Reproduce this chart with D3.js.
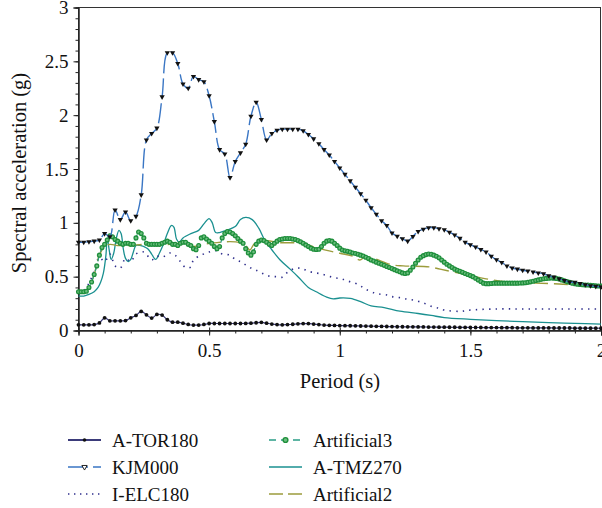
<!DOCTYPE html>
<html><head><meta charset="utf-8">
<script src="https://cdn.jsdelivr.net/npm/d3@7"></script>
<style>
html,body{margin:0;padding:0;background:#fff;}
svg{display:block;}
</style></head>
<body><svg id="chart" width="602" height="508"></svg>
<script>
// ---------- DATA ----------
const xTicks = [0, 0.5, 1, 1.5, 2];
const yTicks = [0, 0.5, 1, 1.5, 2, 2.5, 3];
const seriesNames = ["A-TOR180", "KJM000", "I-ELC180", "Artificial3", "A-TMZ270", "Artificial2"];

// periods sampled every 0.02 s (A-TOR180, KJM000)
const periods02 = d3.range(101).map(i => +(i * 0.02).toFixed(2));
// periods sampled every 0.01 s (Artificial3)
const periods01 = d3.range(201).map(i => +(i * 0.01).toFixed(2));

const torValues = [
0.053,0.053,0.053,0.055,0.07,0.118,0.09,0.09,0.09,0.092,
0.118,0.14,0.177,0.146,0.115,0.149,0.143,0.10,0.077,0.077,
0.068,0.056,0.05,0.05,0.056,0.065,0.065,0.065,0.065,0.065,
0.065,0.065,0.066,0.068,0.072,0.076,0.068,0.06,0.055,0.053,
0.055,0.058,0.062,0.064,0.064,0.06,0.055,0.05,0.048,0.047,
0.046,0.045,0.044,0.043,0.042,0.041,0.040,0.039,0.038,0.037,
0.036,0.035,0.035,0.034,0.034,0.033,0.033,0.032,0.032,0.031,
0.031,0.030,0.030,0.029,0.029,0.028,0.028,0.028,0.027,0.027,
0.027,0.026,0.026,0.026,0.025,0.025,0.025,0.024,0.024,0.024,
0.024,0.023,0.023,0.023,0.023,0.022,0.022,0.022,0.022,0.022,
0.021];

const kjmValues = [
0.82,0.82,0.825,0.83,0.84,0.90,0.87,1.12,1.03,1.10,
1.02,1.06,1.26,1.77,1.83,1.88,2.17,2.58,2.58,2.48,
2.29,2.25,2.36,2.33,2.31,2.18,1.94,1.68,1.64,1.42,
1.57,1.65,1.73,1.99,2.12,1.96,1.77,1.83,1.86,1.87,
1.87,1.87,1.87,1.855,1.82,1.78,1.735,1.68,1.63,1.57,
1.51,1.45,1.39,1.33,1.27,1.21,1.14,1.08,1.02,0.975,
0.905,0.875,0.853,0.83,0.874,0.92,0.94,0.955,0.955,0.945,
0.935,0.912,0.887,0.856,0.82,0.797,0.775,0.753,0.73,0.69,
0.657,0.632,0.60,0.58,0.57,0.56,0.552,0.543,0.535,0.527,
0.508,0.496,0.48,0.465,0.45,0.447,0.437,0.425,0.416,0.41,
0.405];

const elcPeriods = [0,0.02,0.04,0.06,0.08,0.1,0.12,0.14,0.16,0.18,0.2,0.22,0.25,0.28,0.30,0.32,0.35,0.37,0.39,0.41,0.43,0.44,0.47,0.50,0.53,0.55,0.58,0.60,0.62,0.64,0.66,0.68,0.705,0.73,0.755,0.78,0.80,0.83,0.855,0.88,0.905,0.93,0.956,0.98,1.007,1.03,1.06,1.08,1.10,1.13,1.15,1.18,1.2,1.23,1.255,1.28,1.305,1.33,1.356,1.38,1.40,1.46,1.5,1.6,1.7,1.8,1.9,2.0];
const elcValues = [0.34,0.37,0.44,0.55,0.68,0.64,0.71,0.60,0.58,0.67,0.64,0.71,0.73,0.655,0.69,0.68,0.72,0.70,0.64,0.585,0.59,0.655,0.70,0.73,0.74,0.71,0.70,0.66,0.64,0.61,0.58,0.56,0.53,0.505,0.50,0.495,0.54,0.578,0.575,0.55,0.537,0.525,0.506,0.49,0.48,0.46,0.438,0.413,0.382,0.351,0.339,0.33,0.315,0.305,0.293,0.283,0.268,0.246,0.22,0.206,0.19,0.178,0.19,0.2,0.2,0.2,0.2,0.2];

const art3Values = [
0.36,0.36,0.36,0.365,0.40,0.45,0.52,0.60,0.70,0.77,
0.80,0.84,0.88,0.87,0.845,0.83,0.81,0.80,0.81,0.81,
0.80,0.80,0.86,0.915,0.90,0.86,0.81,0.80,0.80,0.80,
0.80,0.80,0.81,0.82,0.83,0.82,0.80,0.80,0.79,0.81,
0.82,0.82,0.80,0.79,0.76,0.75,0.79,0.86,0.87,0.85,
0.83,0.81,0.78,0.76,0.78,0.86,0.90,0.92,0.915,0.90,
0.88,0.855,0.83,0.81,0.76,0.72,0.70,0.73,0.80,0.83,
0.84,0.835,0.82,0.80,0.79,0.81,0.83,0.845,0.85,0.855,
0.855,0.855,0.85,0.845,0.835,0.825,0.81,0.795,0.78,0.765,
0.755,0.752,0.755,0.78,0.81,0.83,0.835,0.83,0.81,0.79,
0.765,0.748,0.74,0.735,0.728,0.72,0.715,0.708,0.70,0.692,
0.68,0.668,0.655,0.645,0.635,0.625,0.615,0.605,0.595,0.585,
0.575,0.565,0.555,0.545,0.535,0.53,0.535,0.56,0.59,0.625,
0.655,0.68,0.695,0.705,0.71,0.708,0.70,0.69,0.675,0.655,
0.635,0.615,0.60,0.585,0.57,0.56,0.55,0.54,0.53,0.52,
0.51,0.50,0.485,0.47,0.455,0.44,0.435,0.435,0.437,0.44,
0.44,0.44,0.44,0.44,0.44,0.44,0.44,0.44,0.44,0.441,
0.442,0.444,0.447,0.452,0.458,0.464,0.47,0.475,0.48,0.484,
0.486,0.487,0.486,0.483,0.478,0.47,0.462,0.454,0.447,0.44,
0.435,0.43,0.427,0.425,0.423,0.422,0.42,0.418,0.416,0.414,
0.413];

const tmzPeriods = [0,0.02,0.04,0.06,0.075,0.085,0.095,0.105,0.11,0.118,0.125,0.135,0.145,0.155,0.163,0.172,0.18,0.19,0.2,0.21,0.22,0.235,0.25,0.265,0.28,0.295,0.31,0.325,0.34,0.355,0.365,0.375,0.385,0.40,0.43,0.46,0.48,0.50,0.512,0.525,0.54,0.565,0.60,0.62,0.64,0.665,0.69,0.715,0.74,0.77,0.81,0.84,0.88,0.91,0.95,0.975,1.0,1.04,1.08,1.12,1.17,1.23,1.3,1.35,1.4,1.5,1.6,1.7,1.8,1.9,2.0];
const tmzValues = [0.32,0.32,0.335,0.36,0.40,0.45,0.53,0.70,0.86,0.74,0.66,0.72,0.86,0.93,0.90,0.75,0.67,0.64,0.66,0.73,0.79,0.79,0.78,0.76,0.71,0.66,0.72,0.80,0.90,0.975,0.96,0.85,0.82,0.86,0.90,0.93,0.99,1.04,1.0,0.91,0.91,0.93,0.965,1.03,1.05,1.03,0.95,0.83,0.75,0.66,0.57,0.50,0.40,0.36,0.31,0.293,0.302,0.298,0.268,0.228,0.213,0.18,0.158,0.14,0.12,0.104,0.092,0.082,0.073,0.066,0.06];

const art2Periods = [0,0.02,0.04,0.06,0.08,0.1,0.12,0.15,0.2,0.25,0.3,0.35,0.39,0.44,0.48,0.53,0.58,0.615,0.643,0.656,0.675,0.72,0.77,0.85,0.924,1.0,1.05,1.077,1.1,1.2,1.243,1.345,1.384,1.473,1.56,1.64,1.75,1.84,1.92,2.0];
const art2Values = [0.35,0.36,0.40,0.52,0.70,0.78,0.80,0.79,0.79,0.80,0.79,0.80,0.81,0.78,0.80,0.816,0.825,0.816,0.78,0.748,0.81,0.834,0.816,0.81,0.76,0.717,0.69,0.655,0.686,0.61,0.60,0.59,0.57,0.525,0.48,0.452,0.44,0.432,0.42,0.413];

// ---------- CHART ----------
const FONT = "'Liberation Serif'";
const svg = d3.select("#chart");
const x = d3.scaleLinear().domain([0, 2]).range([78.5, 601]);
const y = d3.scaleLinear().domain([0, 3]).range([330.5, 7.5]);

const zip = (ps, vs) => ps.map((p, i) => [p, vs[i]]);
const line = d3.line().x(d => x(d[0])).y(d => y(d[1])).curve(d3.curveCatmullRom.alpha(0.5));

const colors = {
  tor: "#3b3b7a", kjm: "#3a76c4", elc: "#2e2e8c",
  art3: "#1f8f3c", art3fill: "#6cbf7e", art3line: "#2a9d86", tmz: "#1a9090", art2: "#9c9c3c"
};

// frame
svg.append("rect").attr("x", 78.5).attr("y", 7.5).attr("width", 522).attr("height", 323)
  .attr("fill", "none").attr("stroke", "#333").attr("stroke-width", 1);

// axes
const fontTick = 19;
const yMinor = svg.append("g").attr("transform", "translate(78.5,0)")
  .call(d3.axisLeft(y).tickValues(d3.range(0, 31).map(i => i / 10)).tickSize(3).tickFormat(""));
const yAxis = svg.append("g").attr("transform", "translate(78.5,0)")
  .call(d3.axisLeft(y).tickValues(yTicks).tickSize(5).tickPadding(5).tickFormat(d => String(d)));
const xMinor = svg.append("g").attr("transform", "translate(0,330.5)")
  .call(d3.axisBottom(x).tickValues(d3.range(0, 21).map(i => i / 10)).tickSize(3).tickFormat(""));
const xAxis = svg.append("g").attr("transform", "translate(0,330.5)")
  .call(d3.axisBottom(x).tickValues(xTicks).tickSize(5).tickPadding(8).tickFormat(d => String(d)));
[yMinor, yAxis, xMinor, xAxis].forEach(g => {
  g.attr("font-family", null);
  g.select(".domain").attr("stroke", "#222");
  g.selectAll(".tick line").attr("stroke", "#222");
  g.selectAll("text").style("font-family", FONT).attr("font-size", fontTick).attr("fill", "#111");
});
xAxis.selectAll(".tick line").attr("y1", -3);

// axis titles
svg.append("text").attr("x", 340).attr("y", 388).attr("text-anchor", "middle")
  .style("font-family", FONT).attr("font-size", 20.5).attr("fill", "#111").text("Period (s)");
svg.append("text").attr("transform", "translate(26,173) rotate(-90)").attr("text-anchor", "middle")
  .style("font-family", FONT).attr("font-size", 20.5).attr("fill", "#111").text("Spectral acceleration (g)");

const plot = svg.append("g");

// A-TMZ270
plot.append("path").datum(zip(tmzPeriods, tmzValues)).attr("d", line)
  .attr("fill", "none").attr("stroke", colors.tmz).attr("stroke-width", 1.3);
// I-ELC180
plot.append("path").datum(zip(elcPeriods, elcValues)).attr("d", line)
  .attr("fill", "none").attr("stroke", colors.elc).attr("stroke-width", 1.6)
  .attr("stroke-dasharray", "1.4,5.2");
// Artificial2
plot.append("path").datum(zip(art2Periods, art2Values)).attr("d", line)
  .attr("fill", "none").attr("stroke", colors.art2).attr("stroke-width", 1.4)
  .attr("stroke-dasharray", "14,6");
// Artificial3
const art3 = zip(periods01, art3Values);
plot.append("path").datum(art3).attr("d", line)
  .attr("fill", "none").attr("stroke", colors.art3line).attr("stroke-width", 1.2)
  .attr("stroke-dasharray", "6,4");
plot.append("g").selectAll("circle").data(art3).join("circle")
  .attr("cx", d => x(d[0])).attr("cy", d => y(d[1])).attr("r", 1.9)
  .attr("fill", colors.art3fill).attr("stroke", colors.art3).attr("stroke-width", 1.3);
// A-TOR180
const tor = zip(periods02, torValues);
plot.append("path").datum(tor).attr("d", line)
  .attr("fill", "none").attr("stroke", colors.tor).attr("stroke-width", 1.2);
plot.append("g").selectAll("circle").data(tor).join("circle")
  .attr("cx", d => x(d[0])).attr("cy", d => y(d[1])).attr("r", 1.9).attr("fill", "#111");
// KJM000
const kjm = zip(periods02, kjmValues);
plot.append("path").datum(kjm).attr("d", line)
  .attr("fill", "none").attr("stroke", colors.kjm).attr("stroke-width", 1.4)
  .attr("stroke-dasharray", "20,5");
const tri = d3.symbol().type(d3.symbolTriangle).size(12);
plot.append("g").selectAll("path").data(kjm).join("path")
  .attr("d", tri).attr("transform", d => `translate(${x(d[0])},${y(d[1])}) rotate(180)`)
  .attr("fill", "#111");

// ---------- LEGEND ----------
const legend = svg.append("g").attr("fill", "#111");
const rows = [440, 467, 494];
const items = [
  {name: seriesNames[0], col: 0, row: 0, stroke: colors.tor, dash: null, marker: "dot"},
  {name: seriesNames[1], col: 0, row: 1, stroke: colors.kjm, dash: "20,5", marker: "tri"},
  {name: seriesNames[2], col: 0, row: 2, stroke: colors.elc, dash: "1.4,4.6", marker: null},
  {name: seriesNames[3], col: 1, row: 0, stroke: colors.art3line, dash: "7,5", marker: "ring"},
  {name: seriesNames[4], col: 1, row: 1, stroke: colors.tmz, dash: null, marker: null},
  {name: seriesNames[5], col: 1, row: 2, stroke: colors.art2, dash: "14,5", marker: null}
];
const colX = [68, 269];
items.forEach(it => {
  const x0 = colX[it.col], yy = rows[it.row];
  const g = legend.append("g");
  g.append("line").attr("x1", x0).attr("x2", x0 + 33).attr("y1", yy).attr("y2", yy)
    .attr("stroke", it.stroke).attr("stroke-width", it.marker === "dot" ? 1.8 : 1.5)
    .attr("stroke-dasharray", it.dash);
  const cx = x0 + 16.5;
  if (it.marker === "dot") g.append("circle").attr("cx", cx).attr("cy", yy).attr("r", 1.8).attr("fill", "#111");
  if (it.marker === "tri") g.append("path").attr("d", tri).attr("transform", `translate(${cx},${yy}) rotate(180)`).attr("fill", "#fff").attr("stroke", "#111").attr("stroke-width", 0.9);
  if (it.marker === "ring") g.append("circle").attr("cx", cx).attr("cy", yy).attr("r", 2.4).attr("fill", colors.art3fill).attr("stroke", colors.art3).attr("stroke-width", 1.4);
  g.append("text").attr("x", x0 + 44).attr("y", yy + 6.5).style("font-family", FONT).attr("font-size", 19).text(it.name);
});
</script></body></html>
